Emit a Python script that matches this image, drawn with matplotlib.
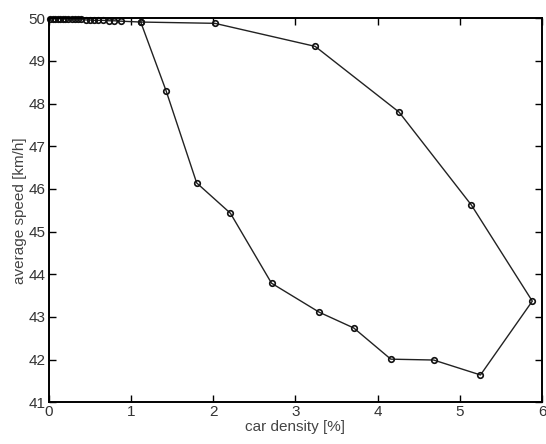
import matplotlib.pyplot as plt

# car density [%] and average speed [km/h], in loop order
density = [0.02, 0.05, 0.08, 0.11, 0.14, 0.17, 0.2, 0.24, 0.28, 0.32, 0.36, 0.4,
           0.45, 0.5, 0.55, 0.6, 0.66, 0.73, 0.8, 0.88, 1.12, 2.02, 3.24, 4.26,
           5.14, 5.88, 5.25, 4.68, 4.16, 3.71, 3.29, 2.71, 2.21, 1.80, 1.43, 1.12]
speed = [49.99, 49.99, 49.99, 49.99, 49.99, 49.98, 49.98, 49.98, 49.98, 49.97,
         49.97, 49.97, 49.96, 49.96, 49.95, 49.95, 49.95, 49.94, 49.94, 49.93,
         49.91, 49.88, 49.34, 47.80, 45.62, 43.37, 41.64, 41.99, 42.01, 42.74,
         43.11, 43.79, 45.43, 46.14, 48.29, 49.91]

x_ticks = [0, 1, 2, 3, 4, 5, 6]
y_ticks = [41, 42, 43, 44, 45, 46, 47, 48, 49, 50]

plt.rcParams['font.family'] = ['Liberation Sans', 'DejaVu Sans']

fig = plt.figure(figsize=(5.46, 4.44), dpi=100)
ax = fig.add_axes([0.089, 0.094, 0.904, 0.865])

ax.plot(density, speed, color='#222222', linewidth=1.0, marker='o',
        markersize=4, markerfacecolor='none', markeredgecolor='#111111',
        markeredgewidth=1.2, clip_on=False)

ax.set_xlim(0, 6)
ax.set_ylim(41, 50)
ax.set_xticks(x_ticks)
ax.set_yticks(y_ticks)
ax.tick_params(direction='in', length=5, width=1, top=True, right=True,
               labelsize=11, labelcolor='#333333', pad=2)
for s in ax.spines.values():
    s.set_linewidth(1.4)

ax.set_xlabel('car density [%]', fontsize=11, color='#444444', labelpad=1)
ax.set_ylabel('average speed [km/h]', fontsize=11, color='#444444', labelpad=1)

fig.savefig('out.png', dpi=100)
